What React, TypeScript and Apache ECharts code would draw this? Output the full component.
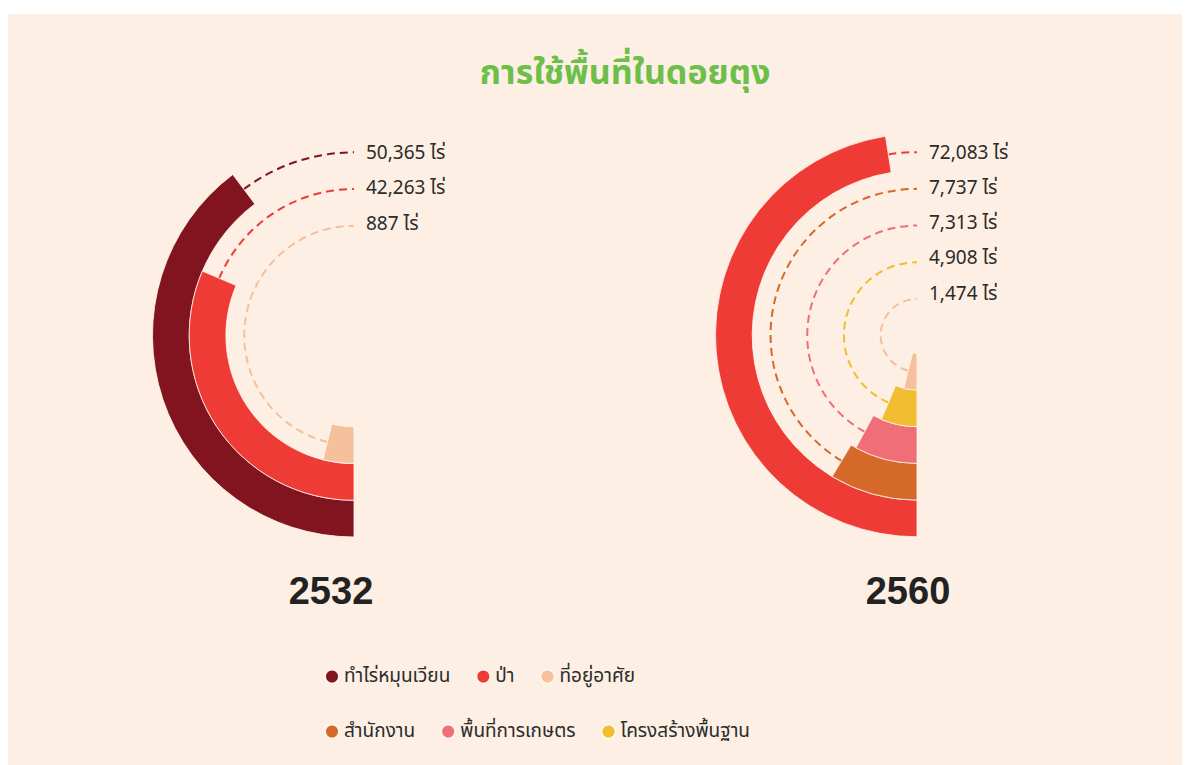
import React, { useEffect, useRef } from "react";
import * as echarts from "echarts";

// ---- data ----
const LEGEND_ROW1 = ["ทำไร่หมุนเวียน", "ป่า", "ที่อยู่อาศัย"];
const LEGEND_ROW2 = ["สำนักงาน", "พื้นที่การเกษตร", "โครงสร้างพื้นฐาน"];
const CATEGORY_COLORS: Record<string, string> = {
  "ทำไร่หมุนเวียน": "#82141f",
  "ป่า": "#ef3b36",
  "ที่อยู่อาศัย": "#f5c09b",
  "สำนักงาน": "#d4692a",
  "พื้นที่การเกษตร": "#ef6e78",
  "โครงสร้างพื้นฐาน": "#f2bd30",
};
const YEARS = ["2532", "2560"];
const RINGS = ["0", "1", "2", "3", "4"]; // outer -> inner

// 2532 (outer -> inner)
const CATS_2532 = ["ทำไร่หมุนเวียน", "ป่า", "ที่อยู่อาศัย"];
const RAI_2532 = [50365, 42263, 887];
const SWEEP_2532 = [143, 113, 14]; // drawn arc extent (degrees)

// 2560 (outer -> inner)
const CATS_2560 = ["ป่า", "สำนักงาน", "พื้นที่การเกษตร", "โครงสร้างพื้นฐาน", "ที่อยู่อาศัย"];
const RAI_2560 = [72083, 7737, 7313, 4908, 1474];
const SWEEP_2560 = [171, 31, 28.5, 23, 14];

const TITLE = "การใช้พื้นที่ในดอยตุง";
const UNIT = "ไร่";
const TOP_ANGLE = 180;

const FONT = "'Noto Sans Thai', 'Noto Sans', 'DejaVu Sans', sans-serif";

function buildSeries(polarIndex: number, cats: string[], rai: number[], sweep: number[]) {
  const bars = cats.map((c, i) => ({
    type: "bar",
    name: c,
    coordinateSystem: "polar",
    polarIndex,
    barGap: "-100%",
    barCategoryGap: "0%",
    data: RINGS.map((_, k) => (k === i ? sweep[i] : "-")),
    itemStyle: { color: CATEGORY_COLORS[c], borderColor: "#fff6ee", borderWidth: 0.8 },
    emphasis: { disabled: true },
    z: 3,
  }));
  const dashed = {
    type: "custom",
    coordinateSystem: "polar",
    polarIndex,
    silent: true,
    z: 2,
    data: sweep.map((s, i) => [i, s]),
    renderItem: (params: any, api: any) => {
      const cs = params.coordSys;
      const i = params.dataIndex;
      const cat = api.value(0);
      const p = api.coord([cat, api.value(1)]);
      const t = api.coord([cat, TOP_ANGLE]);
      const r = Math.hypot(p[0] - cs.cx, p[1] - cs.cy);
      const a0 = Math.atan2(p[1] - cs.cy, p[0] - cs.cx);
      let a1 = Math.atan2(t[1] - cs.cy, t[0] - cs.cx);
      while (a1 < a0) a1 += Math.PI * 2;
      const color = CATEGORY_COLORS[cats[i]];
      return {
        type: "group",
        children: [
          {
            type: "arc",
            shape: { cx: cs.cx, cy: cs.cy, r, startAngle: a0, endAngle: a1, clockwise: true },
            style: { stroke: color, lineWidth: 2, lineDash: [8, 5], fill: null },
          },
          {
            type: "text",
            x: t[0] + 12,
            y: t[1] + 1.5 - i * 1.6,
            style: {
              text: rai[i].toLocaleString("en-US") + " " + UNIT,
              fill: "#2b2b2b",
              font: `19px ${FONT}`,
              verticalAlign: "middle",
              align: "left",
            },
          },
        ],
      };
    },
  };
  return [dashed, ...bars];
}

export default function App() {
  const ref = useRef<HTMLDivElement>(null);
  useEffect(() => {
    if (!ref.current) return;
    const chart = echarts.init(ref.current, null, { renderer: "svg" });
    const legendBase = {
      icon: "circle",
      itemWidth: 14,
      itemHeight: 14,
      itemGap: 25,
      textStyle: { fontSize: 19, color: "#2b2b2b", fontFamily: FONT },
      selectedMode: false,
    };
    chart.setOption({
      animation: false,
      backgroundColor: "#fdefe3",
      color: LEGEND_ROW1.concat(LEGEND_ROW2).map((c) => CATEGORY_COLORS[c]),
      polar: [
        { center: [346, 321.5], radius: [18, 201.5] },
        { center: [909, 321.3], radius: [18, 201.5] },
      ],
      angleAxis: [0, 1].map((pi) => ({
        polarIndex: pi,
        type: "value",
        min: 0,
        max: 360,
        startAngle: 270,
        clockwise: true,
        show: false,
      })),
      radiusAxis: [0, 1].map((pi) => ({
        polarIndex: pi,
        type: "category",
        data: RINGS,
        inverse: true,
        show: false,
      })),
      legend: [
        { ...legendBase, data: LEGEND_ROW1, left: 311, top: 648 },
        { ...legendBase, data: LEGEND_ROW2, left: 311, top: 703 },
      ],
      graphic: [
        {
          type: "text",
          x: 617,
          y: 59,
          style: {
            text: TITLE,
            fill: "#6cbf4a",
            font: `bold 34px ${FONT}`,
            align: "center",
            verticalAlign: "middle",
          },
        },
        {
          type: "text",
          x: 323,
          y: 577,
          style: { text: YEARS[0], fill: "#222", font: `bold 38px 'Liberation Sans', Arial, sans-serif`, align: "center", verticalAlign: "middle" },
        },
        {
          type: "text",
          x: 900,
          y: 577,
          style: { text: YEARS[1], fill: "#222", font: `bold 38px 'Liberation Sans', Arial, sans-serif`, align: "center", verticalAlign: "middle" },
        },
      ],
      series: [
        ...buildSeries(0, CATS_2532, RAI_2532, SWEEP_2532),
        ...buildSeries(1, CATS_2560, RAI_2560, SWEEP_2560),
      ],
    });
    return () => chart.dispose();
  }, []);
  return (
    <div
      ref={ref}
      style={{ position: "fixed", left: 8, top: 14, width: 1174, height: 751 }}
    />
  );
}
